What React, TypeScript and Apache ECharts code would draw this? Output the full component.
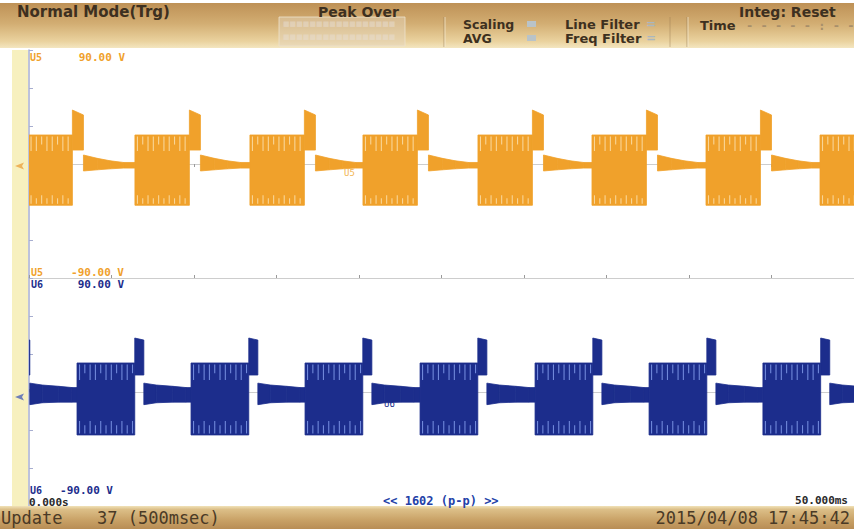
import React, { useEffect, useRef } from "react";
import * as echarts from "echarts";

// ---- axes ----
const X_RANGE_MS = [0, 50];
const X_TICK_MS = 5;
const Y_RANGE_V = [-90, 90];
const Y_TICK_V = 30;

// ---- U5 (orange trace) ----
const U5_BURST_STARTS_MS = [-0.67, 6.42, 13.39, 20.24, 27.21, 34.12, 41.03, 47.94];
// envelope over one cycle, time after burst start (ms); tail holds until next burst
const U5_CYCLE_T = [0, 3.3, 3.3, 3.97, 3.97, 4.8, 5.6, 6.4];
const U5_CYCLE_MAX = [22.9, 22.9, 42.6, 38.7, 7.1, 4.5, 2.5, 1.2];
const U5_CYCLE_MIN = [-32.6, -32.6, 11.0, 11.0, -5.5, -4.6, -3.8, -3.2];
const U5_BURST_END_MS = 3.3;

// ---- U6 (blue trace) ----
const U6_BURST_STARTS_MS = [-4.0, 2.91, 9.82, 16.73, 23.7, 30.67, 37.58, 44.48];
const U6_CYCLE_T = [0, 3.5, 3.5, 4.05, 4.05, 4.8, 5.8, 6.6];
const U6_CYCLE_MAX = [22.9, 22.9, 42.6, 41.0, 7.0, 5.5, 4.5, 3.5];
const U6_CYCLE_MIN = [-33.9, -33.9, 13.4, 13.4, -10.0, -8.5, -8.0, -8.0];
const U6_BURST_END_MS = 3.5;

// ---- texts ----
const CH_LABELS = ["U5", "U6"];
const RANGE_LABELS = ["90.00 V", "-90.00 V"];
const TIME_LABELS = ["0.000s", "50.000ms"];
const PP_LABEL = "<< 1602 (p-p) >>";
const HEADER_LEFT = "Normal Mode(Trg)";
const FOOTER = ["Update", "37 (500msec)", "2015/04/08 17:45:42"];

type Seg = number[];

function buildSegments(
  starts: number[],
  cycT: number[],
  cycMax: number[],
  cycMin: number[],
  burstEnd: number
): Seg[] {
  const pts: number[][] = [];
  starts.forEach((s, i) => {
    const next = i + 1 < starts.length ? starts[i + 1] : X_RANGE_MS[1] + 3;
    cycT.forEach((t, k) => {
      if (s + t < next) pts.push([s + t, cycMax[k], cycMin[k], t]);
    });
    const last = cycT.length - 1;
    pts.push([next, cycMax[last], cycMin[last], 999]);
  });
  const segs: Seg[] = [];
  for (let i = 0; i < pts.length - 1; i++) {
    const p = pts[i];
    const q = pts[i + 1];
    if (q[0] <= p[0]) continue;
    segs.push([p[0], q[0], p[1], q[1], p[2], q[2], p[3] < burstEnd ? 1 : 0]);
  }
  return segs;
}

const makeRender =
  (fill: string, streak: string, topLen: number, botLen: number) =>
  (_params: any, api: any) => {
    const t0 = api.value(0);
    const t1 = api.value(1);
    const a = api.coord([t0, api.value(2)]);
    const b = api.coord([t1, api.value(3)]);
    const c = api.coord([t1, api.value(5)]);
    const d = api.coord([t0, api.value(4)]);
    const children: any[] = [
      {
        type: "polygon",
        shape: { points: [a, b, c, d] },
        style: { fill, stroke: fill, lineWidth: 0.8 },
      },
    ];
    if (api.value(6) === 1) {
      const top = a[1];
      const bot = d[1];
      let k = 0;
      for (let x = a[0] + 2.5; x < b[0] - 1.5; x += 5.3, k++) {
        const tl = k % 3 === 1 ? topLen * 0.6 : topLen;
        children.push({
          type: "line",
          shape: { x1: x, y1: top + 1.5, x2: x, y2: top + tl },
          style: { stroke: streak, lineWidth: 1.1 },
        });
        children.push({
          type: "line",
          shape: { x1: x, y1: bot - 1.5, x2: x, y2: bot - (k % 2 ? botLen * 0.7 : botLen) },
          style: { stroke: streak, lineWidth: 1.1 },
        });
      }
    }
    return { type: "group", children };
  };

const ORANGE = "#F0A12B";
const ORANGE_LIGHT = "#F9D596";
const BLUE = "#1C2D8C";
const BLUE_LIGHT = "#7088DA";
const HDR_TEXT = "#3d3020";
const MONO = '"DejaVu Sans Mono", "Liberation Mono", monospace';
const SANS = '"DejaVu Sans", "Liberation Sans", sans-serif';

function txt(text: string, x: number, y: number, o: any = {}) {
  return {
    type: "text",
    x,
    y,
    z: 100,
    style: {
      text,
      fill: o.fill ?? HDR_TEXT,
      fontSize: o.size ?? 14,
      fontFamily: o.family ?? SANS,
      fontWeight: o.weight ?? "bold",
      align: o.align ?? "left",
      verticalAlign: "middle",
    },
  };
}

function vLine(x: number, y1: number, y2: number, stroke: string, w = 1) {
  return { type: "line", z: 50, shape: { x1: x, y1, x2: x, y2 }, style: { stroke, lineWidth: w } };
}

export default function App() {
  const ref = useRef<HTMLDivElement>(null);
  useEffect(() => {
    document.body.style.margin = "0";
    const chart = echarts.init(ref.current!, null, { renderer: "svg" });

    const u5 = buildSegments(U5_BURST_STARTS_MS, U5_CYCLE_T, U5_CYCLE_MAX, U5_CYCLE_MIN, U5_BURST_END_MS);
    const u6 = buildSegments(U6_BURST_STARTS_MS, U6_CYCLE_T, U6_CYCLE_MAX, U6_CYCLE_MIN, U6_BURST_END_MS);

    const xBase = {
      type: "value",
      min: X_RANGE_MS[0],
      max: X_RANGE_MS[1],
      interval: X_TICK_MS,
      axisLine: { show: true, lineStyle: { color: "#cdcdcd", width: 1 } },
      axisTick: { show: true, inside: true, length: 3, lineStyle: { color: "#9a9a9a" } },
      axisLabel: { show: false },
      splitLine: { show: false },
    };
    const yBase = {
      type: "value",
      min: Y_RANGE_V[0],
      max: Y_RANGE_V[1],
      interval: Y_TICK_V,
      axisLine: { show: true, lineStyle: { color: "#a7aed0", width: 1.5 } },
      axisTick: { show: true, inside: true, length: 4, lineStyle: { color: "#a7aed0" } },
      axisLabel: { show: false },
      splitLine: { show: false },
    };

    const graphic: any[] = [
      // header
      {
        type: "rect",
        z: 1,
        shape: { x: 0, y: 3, width: 854, height: 45 },
        style: {
          fill: {
            type: "linear", x: 0, y: 0, x2: 0, y2: 1,
            colorStops: [
              { offset: 0, color: "#be9156" },
              { offset: 0.45, color: "#d2ad72" },
              { offset: 0.85, color: "#ead29e" },
              { offset: 1, color: "#f4e6c0" },
            ],
          },
        },
      },
      {
        type: "rect",
        z: 2,
        shape: { x: 279, y: 17, width: 126, height: 29 },
        style: { fill: "rgba(228,212,185,0.5)", stroke: "rgba(238,226,205,0.8)", lineWidth: 1 },
      },
      txt("■■■■■■■■■■■■■■■■■", 283, 24, { fill: "rgba(232,222,212,0.5)", size: 7, family: SANS, weight: "normal" }),
      txt("■■■■■■■■■■■■■■■■■", 283, 37, { fill: "rgba(232,222,212,0.5)", size: 7, family: SANS, weight: "normal" }),
      vLine(444, 17, 47, "rgba(150,120,80,0.55)"),
      vLine(445, 17, 47, "rgba(250,240,215,0.7)"),
      vLine(670, 17, 47, "rgba(150,120,80,0.45)"),
      vLine(687, 17, 47, "rgba(150,120,80,0.55)"),
      vLine(688, 17, 47, "rgba(250,240,215,0.7)"),
      txt(HEADER_LEFT, 17, 12, { size: 15 }),
      txt("Peak Over", 318, 12, { size: 14 }),
      txt("Scaling", 463, 24, { size: 12.5 }),
      txt("AVG", 463, 38, { size: 12.5 }),
      { type: "rect", z: 60, shape: { x: 527, y: 21, width: 9, height: 6 }, style: { fill: "#b9c3c8" } },
      { type: "rect", z: 60, shape: { x: 527, y: 35, width: 9, height: 6 }, style: { fill: "#b9c3c8" } },
      txt("Line Filter", 565, 24, { size: 13 }),
      txt("=", 646, 24, { size: 12, fill: "#aab7c0" }),
      txt("Freq Filter", 565, 38, { size: 13 }),
      txt("=", 646, 38, { size: 12, fill: "#aab7c0" }),
      txt("Time", 700, 25, { size: 13 }),
      txt("Integ: Reset", 739, 12, { size: 14 }),
      txt("- - - - - : - -", 746, 26, { size: 12, family: MONO, fill: "#a88f6a" }),
      // left strip
      { type: "rect", z: 1, shape: { x: 12, y: 50, width: 16, height: 456 }, style: { fill: "#f7f0bf" } },
      // footer
      {
        type: "rect",
        z: 1,
        shape: { x: 0, y: 506, width: 854, height: 23 },
        style: {
          fill: {
            type: "linear", x: 0, y: 0, x2: 0, y2: 1,
            colorStops: [
              { offset: 0, color: "#f1e2b8" },
              { offset: 0.15, color: "#dcbf88" },
              { offset: 0.6, color: "#c9a267" },
              { offset: 1, color: "#b88d55" },
            ],
          },
        },
      },
      txt(FOOTER[0], 1, 518, { size: 17, family: MONO, weight: "normal", fill: "#4a3a26" }),
      txt(FOOTER[1], 97, 518, { size: 17, family: MONO, weight: "normal", fill: "#4a3a26" }),
      txt(FOOTER[2], 850, 518, { size: 17, family: MONO, weight: "normal", fill: "#4a3a26", align: "right" }),
      // channel labels
      txt(CH_LABELS[0], 30, 57, { size: 10, family: MONO, fill: ORANGE }),
      txt(RANGE_LABELS[0], 125, 57, { size: 11, family: MONO, fill: ORANGE, align: "right" }),
      txt(CH_LABELS[0], 31, 272, { size: 10, family: MONO, fill: ORANGE }),
      txt(RANGE_LABELS[1], 124, 272, { size: 11, family: MONO, fill: ORANGE, align: "right" }),
      txt(CH_LABELS[1], 31, 284, { size: 10, family: MONO, fill: BLUE }),
      txt(RANGE_LABELS[0], 124, 284, { size: 11, family: MONO, fill: BLUE, align: "right" }),
      txt(CH_LABELS[1], 30, 490, { size: 10, family: MONO, fill: BLUE }),
      txt(RANGE_LABELS[1], 113, 490, { size: 11, family: MONO, fill: BLUE, align: "right" }),
      txt(TIME_LABELS[0], 29, 502, { size: 11, family: MONO, fill: "#2a2a2a" }),
      txt(PP_LABEL, 383, 501, { size: 12, family: MONO, fill: "#2341a8" }),
      txt(TIME_LABELS[1], 848, 500, { size: 11, family: MONO, fill: "#2a2a2a", align: "right" }),
      // trace labels
      txt(CH_LABELS[0], 344, 173, { size: 9, family: MONO, weight: "normal", fill: "#f2b552" }),
      txt(CH_LABELS[1], 384, 404, { size: 9, family: MONO, weight: "normal", fill: BLUE }),
      // ground markers
      {
        type: "polygon", z: 60,
        shape: { points: [[15, 166], [24, 162.5], [22, 166], [24, 169.5]] },
        style: { fill: "#eeb35a" },
      },
      {
        type: "polygon", z: 60,
        shape: { points: [[15, 397], [24, 393.5], [22, 397], [24, 400.5]] },
        style: { fill: "#6f7fb8" },
      },
    ];

    chart.setOption({
      animation: false,
      backgroundColor: "#ffffff",
      grid: [
        { left: 29, right: 0, top: 50, height: 228, outerBoundsMode: "none" },
        { left: 29, right: 0, top: 278, height: 228, outerBoundsMode: "none" },
      ],
      xAxis: [
        { ...xBase, gridIndex: 0, position: "top" },
        { ...xBase, gridIndex: 0, position: "bottom" },
        { ...xBase, gridIndex: 1, position: "bottom" },
      ],
      yAxis: [
        { ...yBase, gridIndex: 0 },
        { ...yBase, gridIndex: 1 },
      ],
      series: [
        {
          type: "custom",
          name: "U5",
          xAxisIndex: 0,
          yAxisIndex: 0,
          clip: true,
          renderItem: makeRender(ORANGE, ORANGE_LIGHT, 16, 10),
          encode: { x: [0, 1], y: [2, 3, 4, 5] },
          data: u5,
        },
        {
          type: "custom",
          name: "U6",
          xAxisIndex: 2,
          yAxisIndex: 1,
          clip: true,
          renderItem: makeRender(BLUE, BLUE_LIGHT, 17, 14),
          encode: { x: [0, 1], y: [2, 3, 4, 5] },
          data: u6,
        },
      ],
      graphic,
    });
    return () => chart.dispose();
  }, []);
  return <div ref={ref} style={{ width: 854, height: 529 }} />;
}
